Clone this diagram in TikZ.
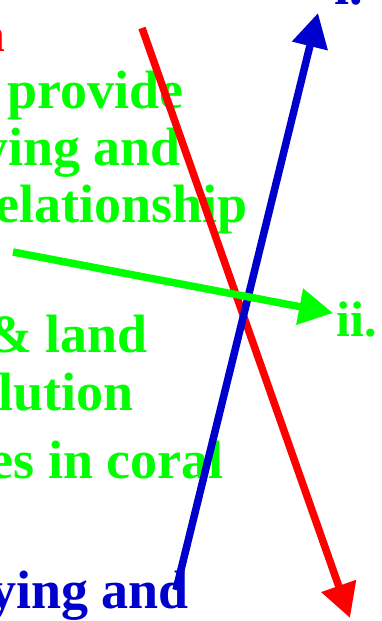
\documentclass[tikz,border=0pt]{standalone}
\usepackage{fontspec}
\setmainfont{Liberation Serif}
\usetikzlibrary{arrows.meta}
\definecolor{Grn} {HTML}{00FF00}
\definecolor{Red} {HTML}{FF0000}
\definecolor{Blu} {HTML}{0000CC}
\tikzset{
  txt/.style args={#1}{
    text=#1, inner sep=0pt, anchor=base east,
    font=\fontsize{54}{60}\selectfont\bfseries,
  },
  arr/.style args={#1}{
    -{Triangle[length=34pt,width=35pt]},
    line width=7.5pt, color=#1,
  },
}
\begin{document}
\begin{tikzpicture}[x=1pt,y=-1pt]
  \useasboundingbox (0,0) rectangle (381,621);
  \clip (0,0) rectangle (381,621);

  \node[txt=Red,font=\fontsize{48}{54}\selectfont\bfseries] (rtop) at (5,51) {n};
  \node[txt=Grn] (gl1) at (184,108) {provide};
  \node[txt=Grn] (gl2) at (181,165) {ying and};
  \node[txt=Grn] (gl3) at (248,222) {elationship};
  \node[txt=Grn] (gl4) at (148,352) {\& land};
  \node[txt=Grn] (gl5) at (134,410) {lution};
  \node[txt=Grn] (gl6) at (224,478) {es in coral};
  \node[txt=Blu] (bl1) at (189,608) {ying and};
  \node[txt=Blu] (lbi)  at (363,5)   {i.};
  \node[txt=Grn,anchor=base west,font=\fontsize{50}{56}\selectfont\bfseries]
       (lbii) at (336,336) {ii.};

  % arrow ends
  \coordinate (redA) at (142,28);
  \coordinate (redB) at (350,618);
  \coordinate (bluA) at (176,590);
  \coordinate (bluB) at (318,13);
  \coordinate (grnA) at (13,252);
  \coordinate (grnB) at (333,313);

  \draw[arr=Red] (redA) -- (redB);
  \draw[arr=Blu] (bluA) -- (bluB);
  \draw[arr=Grn] (grnA) -- (grnB);
\end{tikzpicture}
\end{document}
